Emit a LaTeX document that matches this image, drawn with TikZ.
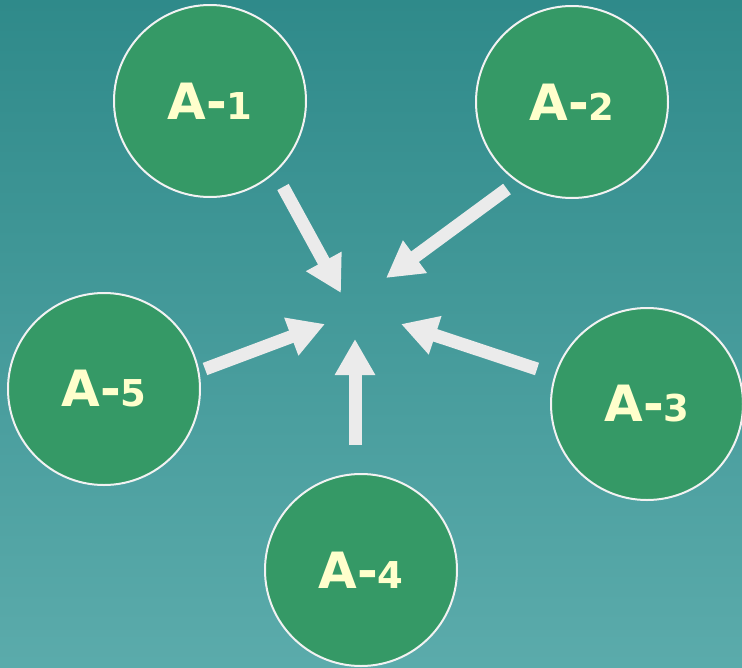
\documentclass[tikz,border=0pt]{standalone}
\usepackage{fontspec}
\setmainfont{DejaVu Sans}
\usetikzlibrary{arrows.meta}
\definecolor{bgtop}{HTML}{2F8A8A}
\definecolor{bgbot}{HTML}{5BABAB}
\definecolor{ballfill}{HTML}{359966}
\definecolor{labelcol}{HTML}{FFFFCC}
\definecolor{arrowcol}{HTML}{EBEBEB}
\definecolor{rimcol}{HTML}{F2F2F2}
\newcommand{\alabel}[1]{\raisebox{-3pt}{\bfseries\fontsize{50}{50}\selectfont A-{\fontsize{37}{37}\selectfont #1}}}
\tikzset{
  ball/.style={circle, fill=ballfill, draw=rimcol, line width=2pt,
    minimum size=192pt, inner sep=0pt, text=labelcol},
  pointer/.style={draw=arrowcol, line width=13pt,
    -{Triangle[width=38pt,length=36pt,fill=arrowcol]}}
}
\begin{document}
\begin{tikzpicture}[x=1pt,y=-1pt]
\useasboundingbox (0,0) rectangle (742,667);
\shade[top color=bgtop, bottom color=bgbot] (0,0) rectangle (742,667);
\node[ball] (a1) at (210,101) {\alabel{1}};
\node[ball] (a2) at (572,102) {\alabel{2}};
\node[ball] (a3) at (647,404) {\alabel{3}};
\node[ball] (a4) at (361,570) {\alabel{4}};
\node[ball] (a5) at (104,389) {\alabel{5}};
\coordinate (s1) at (283,187);
\coordinate (t1) at (341,293);
\coordinate (s2) at (507,189);
\coordinate (t2) at (386,278);
\coordinate (s3) at (537,369);
\coordinate (t3) at (401,324);
\coordinate (s4) at (355,445);
\coordinate (t4) at (355,339);
\coordinate (s5) at (205,369);
\coordinate (t5) at (325,324);
\draw[pointer] (s1) -- (t1);
\draw[pointer] (s2) -- (t2);
\draw[pointer] (s3) -- (t3);
\draw[pointer] (s4) -- (t4);
\draw[pointer] (s5) -- (t5);
\end{tikzpicture}
\end{document}
